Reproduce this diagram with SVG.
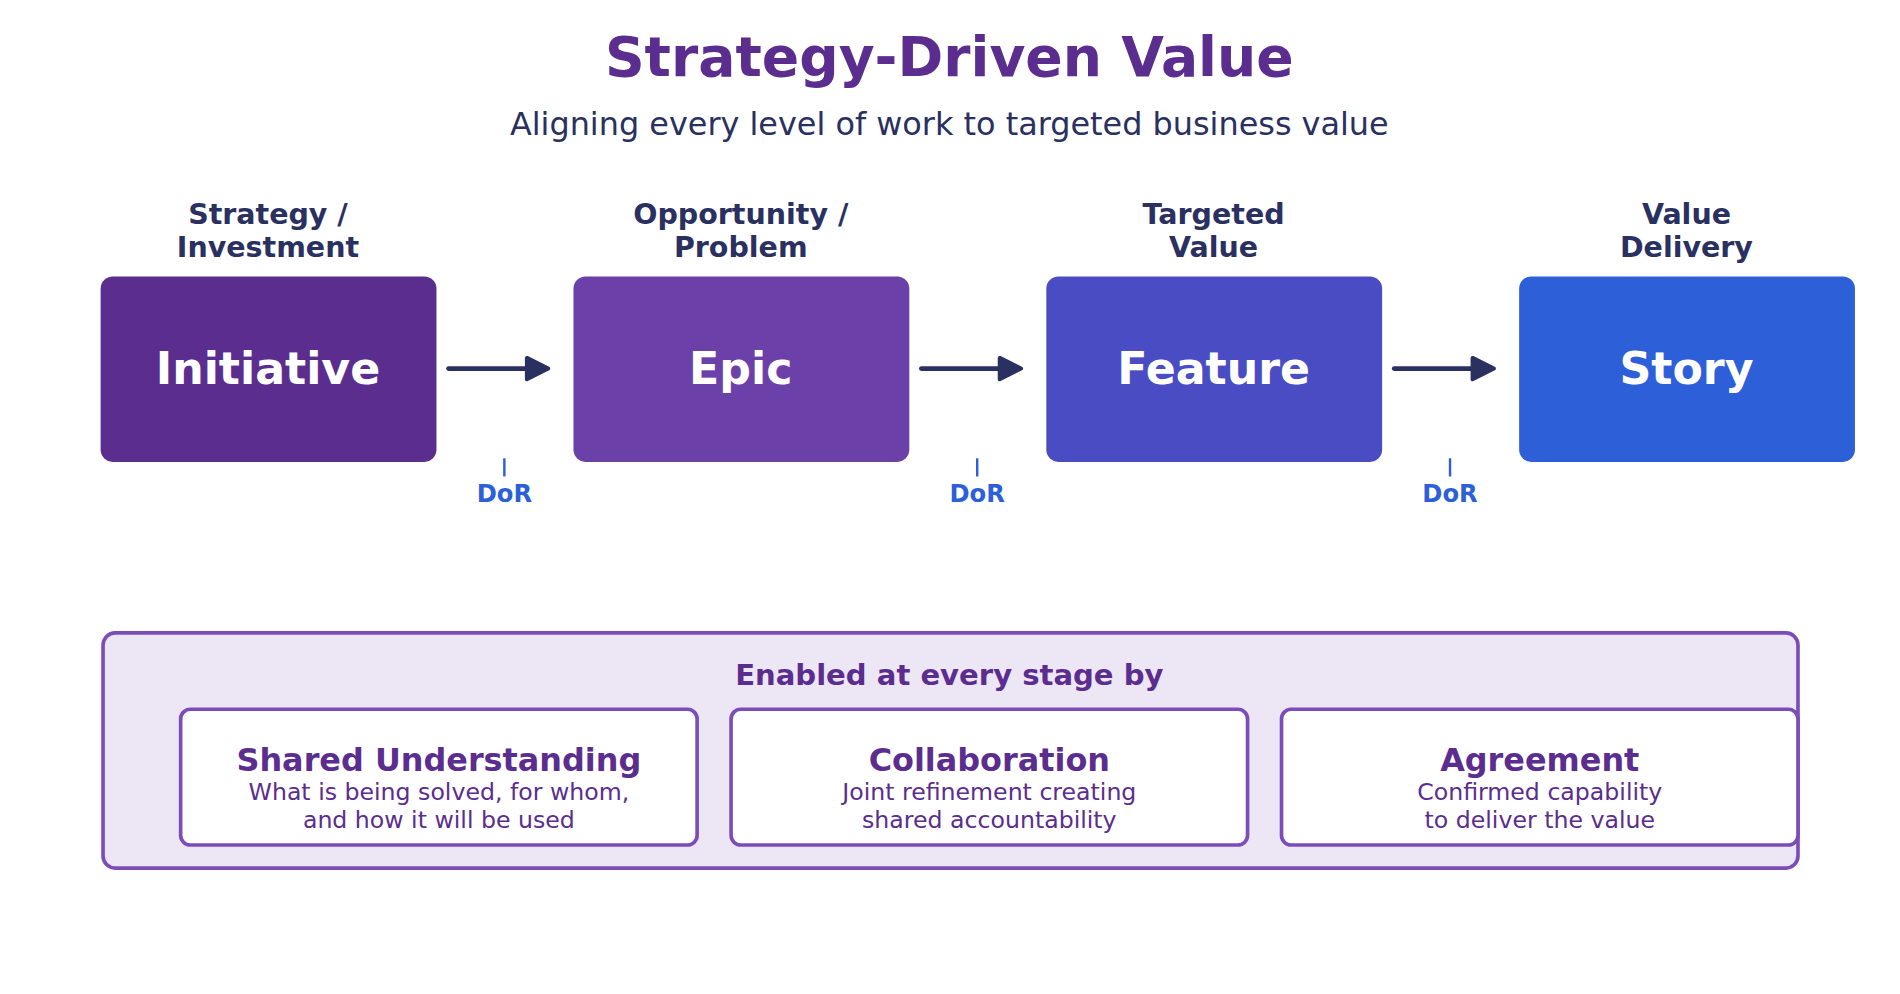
<svg xmlns="http://www.w3.org/2000/svg" width="1900" height="994" viewBox="0 0 1900 994">
<style>
text{font-family:"DejaVu Sans",sans-serif;text-anchor:middle}
.lab{font-weight:bold;font-size:23.5px;fill:#2a3060}
.box{font-weight:bold;font-size:36.5px;fill:#fff}
.dor{font-weight:bold;font-size:20px;fill:#2d5fd9}
.ct{font-weight:bold;font-size:26.3px;fill:#5b2d8e}
.cd{font-size:19.5px;fill:#5b2d8e}
.card{fill:#fff;stroke:#7c4db8;stroke-width:3}
</style>
<defs><marker id="ah" viewBox="0 0 10 10" refX="8" refY="5" markerWidth="5.5" markerHeight="5.5" orient="auto"><path d="M1,1L9,5L1,9z" fill="#2a3060" stroke="#2a3060" stroke-width="1.5" stroke-linejoin="round"/></marker></defs>
<rect width="1900" height="994" fill="#fff"/>
<g transform="scale(1.2124)">
<text x="783" y="63" style="font-weight:bold;font-size:45.5px;fill:#5b2d8e">Strategy-Driven Value</text>
<text x="783" y="111" style="font-size:26.3px;fill:#2a3060">Aligning every level of work to targeted business value</text>
<g id="initiative"><text class="lab" x="221" y="185">Strategy /</text><text class="lab" x="221" y="212">Investment</text><rect x="83" y="228" width="277" height="153" rx="10" fill="#5b2d8e"/><text class="box" x="221" y="317">Initiative</text></g>
<g id="epic"><text class="lab" x="611" y="185">Opportunity /</text><text class="lab" x="611" y="212">Problem</text><rect x="473" y="228" width="277" height="153" rx="10" fill="#6b40a8"/><text class="box" x="611" y="317">Epic</text></g>
<g id="feature"><text class="lab" x="1001" y="185">Targeted</text><text class="lab" x="1001" y="212">Value</text><rect x="863" y="228" width="277" height="153" rx="10" fill="#4a4cc4"/><text class="box" x="1001" y="317">Feature</text></g>
<g id="story"><text class="lab" x="1391" y="185">Value</text><text class="lab" x="1391" y="212">Delivery</text><rect x="1253" y="228" width="277" height="153" rx="10" fill="#2d5fd9"/><text class="box" x="1391" y="317">Story</text></g>
<g id="connectors" stroke="#2a3060" stroke-width="4" stroke-linecap="round">
<line x1="370" y1="304" x2="450" y2="304" marker-end="url(#ah)"/>
<line x1="760" y1="304" x2="840" y2="304" marker-end="url(#ah)"/>
<line x1="1150" y1="304" x2="1230" y2="304" marker-end="url(#ah)"/>
</g>
<g id="dor" stroke="#2d5fd9" stroke-width="2">
<line x1="416" y1="378" x2="416" y2="393"/><line x1="806" y1="378" x2="806" y2="393"/><line x1="1196" y1="378" x2="1196" y2="393"/>
</g>
<text class="dor" x="416" y="414">DoR</text><text class="dor" x="806" y="414">DoR</text><text class="dor" x="1196" y="414">DoR</text>
<g id="enablers">
<rect x="85" y="522" width="1398" height="194" rx="10" fill="#ede6f5" stroke="#7c4db8" stroke-width="3"/>
<text x="783" y="565" style="font-weight:bold;font-size:24px;fill:#5b2d8e">Enabled at every stage by</text>
<g id="shared"><rect class="card" x="149" y="585" width="426" height="112" rx="8"/><text class="ct" x="362" y="636">Shared Understanding</text><text class="cd" x="362" y="660">What is being solved, for whom,</text><text class="cd" x="362" y="683">and how it will be used</text></g>
<g id="collab"><rect class="card" x="603" y="585" width="426" height="112" rx="8"/><text class="ct" x="816" y="636">Collaboration</text><text class="cd" x="816" y="660">Joint refinement creating</text><text class="cd" x="816" y="683">shared accountability</text></g>
<g id="agree"><rect class="card" x="1057" y="585" width="426" height="112" rx="8"/><text class="ct" x="1270" y="636">Agreement</text><text class="cd" x="1270" y="660">Confirmed capability</text><text class="cd" x="1270" y="683">to deliver the value</text></g>
</g>
</g>
</svg>
